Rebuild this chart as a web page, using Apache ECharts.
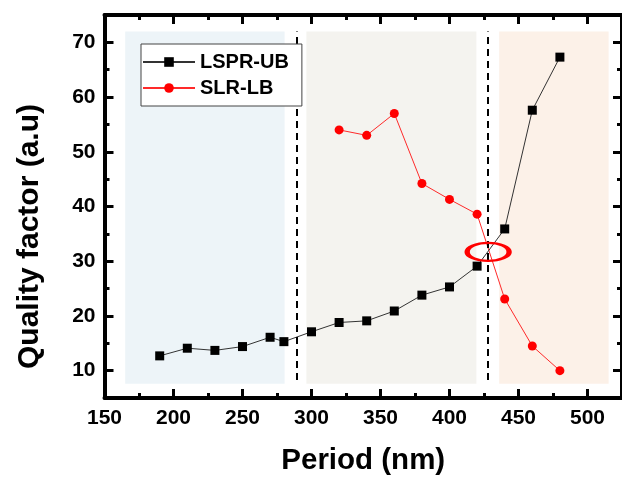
<!DOCTYPE html>
<html>
<head>
<meta charset="utf-8">
<script src="https://cdn.jsdelivr.net/npm/echarts@6/dist/echarts.min.js"></script>
<style>
  html, body { margin: 0; padding: 0; background: #fff; }
  #chart { width: 622px; height: 481px; }
</style>
</head>
<body>
<div id="chart"></div>
<script>
// Periods (nm) and quality factors of the two modes
const periodsUB = [190, 210, 230, 250, 270, 280, 300, 320, 340, 360, 380, 400, 420, 440, 460, 480];
const lsprUB = [12.7, 14.1, 13.7, 14.4, 16.1, 15.3, 17.1, 18.8, 19.1, 20.9, 23.8, 25.3, 29.1, 35.9, 57.6, 67.3];
const periodsLB = [320, 340, 360, 380, 400, 420, 440, 460, 480];
const slrLB = [54.0, 53.0, 57.0, 44.2, 41.3, 38.6, 23.1, 14.5, 10.0];

// Axis ranges and tick values
const xRange = [150, 525];
const yRange = [5, 75];
const xMajor = [150, 200, 250, 300, 350, 400, 450, 500];
const xMinor = [175, 225, 275, 325, 375, 425, 475];
const yMajor = [10, 20, 30, 40, 50, 60, 70];
const yMinor = [15, 25, 35, 45, 55, 65];

// Shaded period bands [start, end] and the band height
const bands = [[165, 280.5], [296.3, 419.5], [436, 515.3]];
const bandY = [7.6, 72];
const bandColors = ['#edf4f8', '#f4f3ef', '#fcf1e8'];

// Dashed boundaries between regimes
const dividers = [289.3, 427.7];
const dividerY = [8.3, 72];

// Crossing point of the two modes
const crossing = [428, 31.7];

const FONT = '"Liberation Sans", Arial, sans-serif';

const pair = (a, b) => a.map((v, i) => [v, b[i]]);

function xAxisPair(position, withLabels) {
  const common = {
    type: 'value', position: position, min: xRange[0], max: xRange[1],
    splitLine: { show: false }, gridIndex: 0
  };
  return [
    Object.assign({}, common, {
      axisLine: { show: true, onZero: false, lineStyle: { color: '#000', width: 4 } },
      axisTick: { show: true, inside: true, length: 9, customValues: xMajor, lineStyle: { color: '#000', width: 3 } },
      axisLabel: withLabels ? {
        show: true, customValues: xMajor, margin: 10,
        color: '#000', fontSize: 21, fontWeight: 'bold', fontFamily: FONT
      } : { show: false },
      name: withLabels ? 'Period (nm)' : '',
      nameLocation: 'middle', nameGap: 48,
      nameTextStyle: { color: '#000', fontSize: 29.5, fontWeight: 'bold', fontFamily: FONT }
    }),
    Object.assign({}, common, {
      axisLine: { show: false, onZero: false },
      axisTick: { show: true, inside: true, length: 5, customValues: xMinor, lineStyle: { color: '#000', width: 3 } },
      axisLabel: { show: false }
    })
  ];
}

function yAxisPair(position, withLabels) {
  const common = {
    type: 'value', position: position, min: yRange[0], max: yRange[1],
    splitLine: { show: false }, gridIndex: 0
  };
  return [
    Object.assign({}, common, {
      axisLine: { show: true, onZero: false, lineStyle: { color: '#000', width: 4 } },
      axisTick: { show: true, inside: true, length: 9, customValues: yMajor, lineStyle: { color: '#000', width: 3 } },
      axisLabel: withLabels ? {
        show: true, customValues: yMajor, margin: 9,
        color: '#000', fontSize: 21, fontWeight: 'bold', fontFamily: FONT
      } : { show: false },
      name: withLabels ? 'Quality factor (a.u)' : '',
      nameLocation: 'middle', nameGap: 60,
      nameTextStyle: {
        color: '#000', fontSize: 30, fontWeight: 'bold', fontFamily: FONT,
        padding: [0, 60, 0, 0]
      }
    }),
    Object.assign({}, common, {
      axisLine: { show: false, onZero: false },
      axisTick: { show: true, inside: true, length: 5, customValues: yMinor, lineStyle: { color: '#000', width: 3 } },
      axisLabel: { show: false }
    })
  ];
}

const chart = echarts.init(document.getElementById('chart'), null, { renderer: 'canvas' });

const option = {
  animation: false,
  backgroundColor: '#fff',
  grid: { left: 104.5, right: -3.4, top: 15, bottom: 79.5, containLabel: false },
  xAxis: [].concat(xAxisPair('bottom', true), xAxisPair('top', false)),
  yAxis: [].concat(yAxisPair('left', true), yAxisPair('right', false)),
  legend: {
    orient: 'vertical', left: 141, top: 44,
    backgroundColor: '#fff', borderColor: '#444', borderWidth: 1,
    padding: [8, 13, 8, 1], itemGap: 6, itemWidth: 52, itemHeight: 12,
    textStyle: { color: '#000', fontSize: 20, fontWeight: 'bold', fontFamily: FONT, lineHeight: 20 },
    z: 10,
    data: ['LSPR-UB', 'SLR-LB']
  },
  series: [
    {
      name: 'LSPR-UB', type: 'line', xAxisIndex: 0, yAxisIndex: 0,
      data: pair(periodsUB, lsprUB),
      symbol: 'rect', symbolSize: 9,
      lineStyle: { color: '#333', width: 1 },
      itemStyle: { color: '#000' },
      z: 4,
      markArea: {
        silent: true,
        data: bands.map((b, i) => [
          { xAxis: b[0], yAxis: bandY[0], itemStyle: { color: bandColors[i] } },
          { xAxis: b[1], yAxis: bandY[1] }
        ])
      },
      markLine: {
        silent: true, symbol: ['none', 'none'],
        label: { show: false },
        lineStyle: { color: '#000', width: 2, type: [7, 5] },
        data: dividers.map(x => [{ coord: [x, dividerY[0]] }, { coord: [x, dividerY[1]] }])
      }
    },
    {
      name: 'SLR-LB', type: 'line', xAxisIndex: 0, yAxisIndex: 0,
      data: pair(periodsLB, slrLB),
      symbol: 'circle', symbolSize: 9,
      lineStyle: { color: '#ff2a2a', width: 1 },
      itemStyle: { color: '#ff0000' },
      z: 3,
      markPoint: {
        silent: true,
        symbol: 'circle', symbolSize: [42, 18],
        label: { show: false },
        itemStyle: { color: 'rgba(0,0,0,0)', borderColor: '#ff0000', borderWidth: 3.5 },
        data: [{ coord: crossing }]
      }
    }
  ]
};

chart.setOption(option);
</script>
</body>
</html>
